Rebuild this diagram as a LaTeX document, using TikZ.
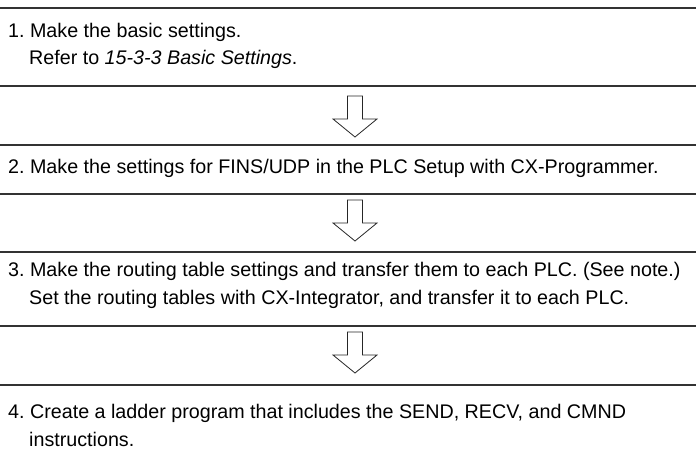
\documentclass[tikz,border=0pt]{standalone}
\usepackage{fontspec}
\setmainfont{Liberation Sans}
\usetikzlibrary{positioning}
\frenchspacing

\begin{document}
\begin{tikzpicture}[
  x=1pt, y=-1pt,
  font=\fontsize{19.7}{27}\selectfont,
  rule/.style={draw=black!80,line width=1.1pt},
  stepline/.style={anchor=base west,inner sep=0pt},
  downarr/.style={draw=black!85,line width=0.8pt,fill=white,line join=miter},
]
\useasboundingbox (0,0) rectangle (696,452);
% ===== separating rules =====
\foreach \y in {8,86,145,194,252,326,385}{ \draw[rule] (0,\y) -- (696,\y); }

% ===== step texts =====
\node[stepline] (s1) at (8,38) {1. Make the basic settings.};
\node[stepline] (s1b) at (29,65) {Refer to \textit{15-3-3 Basic Settings}.};
\node[stepline] (s2) at (8,173) {2. Make the settings for FINS/UDP in the PLC Setup with CX-Programmer.};
\node[stepline] (s3) at (8,276) {3. Make the routing table settings and transfer them to each PLC. (See note.)};
\node[stepline] (s3b) at (29,304) {Set the routing tables with CX-Integrator, and transfer it to each PLC.};
\node[stepline] (s4) at (8,418) {4. Create a ladder program that includes the SEND, RECV, and CMND};
\node[stepline] (s4b) at (29,446) {instructions.};

% ===== down arrows between steps =====
\foreach \y in {96,200,332}{
  \draw[downarr] (347.5,\y) -- (362.5,\y) -- (362.5,\y+23) -- (377,\y+23)
    -- (355,\y+41) -- (333,\y+23) -- (347.5,\y+23) -- cycle;
}
\end{tikzpicture}
\end{document}
